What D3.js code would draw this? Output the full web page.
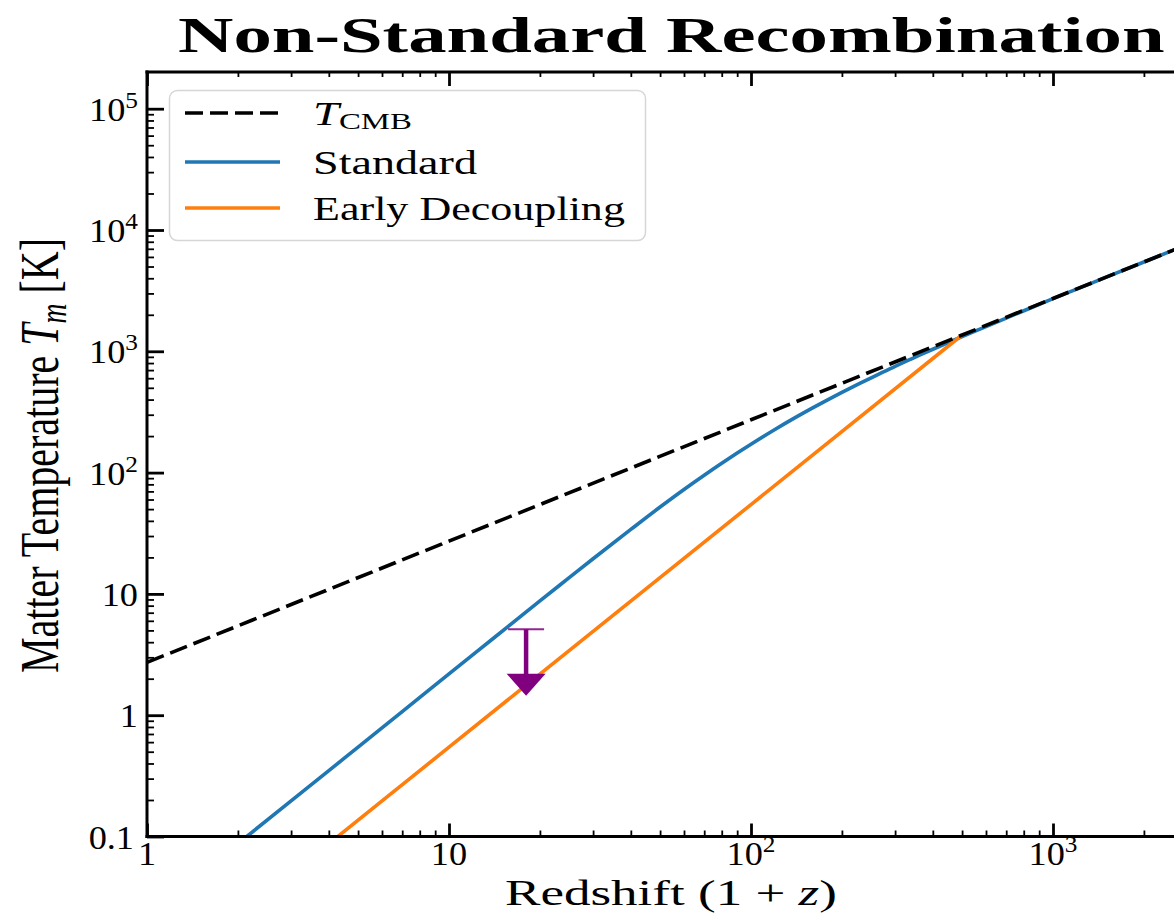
<!DOCTYPE html>
<html>
<head>
<meta charset="utf-8">
<script src="https://cdn.jsdelivr.net/npm/d3@7"></script>
<style>
  body { margin: 0; background: #fff; }
  svg { display: block; }
  text { font-family: "Liberation Serif", "Times New Roman", serif; fill: #000; }
</style>
</head>
<body>
<svg id="chart" width="1174" height="914"></svg>
<script>
// CMB temperature, T = 2.725 K (1+z)
const redshiftCMB = [1, 10, 100, 1000, 5000];
const tempCMB = [2.725, 27.25, 272.5, 2725, 13625];

// Standard recombination: gas temperature decouples from the CMB around 1+z ~ 150
const redshiftStandard = [2, 3, 4, 5, 7, 10, 14, 20, 25, 30, 40, 50, 60, 70, 80, 90, 100, 120, 140, 160, 180, 200, 230, 260, 300, 350, 400, 450, 500, 600, 700, 850, 1000, 1500, 2000, 3000, 5000];
const tempStandard = [0.0874, 0.1965, 0.349, 0.546, 1.07, 2.19, 4.29, 8.75, 13.6, 19.5, 34.0, 52.0, 72.6, 95.1, 119.3, 144.8, 171.4, 226.7, 283.8, 341.7, 400.1, 458.5, 546, 633, 752, 895, 1040, 1182, 1322, 1599, 1879, 2298, 2714, 4083, 5450, 8175, 13625];

// Early decoupling: adiabatic cooling (T ~ (1+z)^2) from 1+z = 500
const redshiftEarly = [4, 10, 100, 500];
const tempEarly = [0.0872, 0.545, 54.5, 1362];

// Upper limit on T_m at 1+z = 18
const limitRedshift = 18;
const limitUpper = 5.1;
const limitArrowTip = 1.45;

// Axis ticks and labels
const xTickValues = [1, 10, 100, 1000];
const xTickLabels = ["1", "10", "10^2", "10^3"];
const yTickValues = [0.1, 1, 10, 100, 1000, 1e4, 1e5];
const yTickLabels = ["0.1", "1", "10", "10^2", "10^3", "10^4", "10^5"];

const legendLabels = ["T_CMB", "Standard", "Early Decoupling"];
const seriesColors = { cmb: "#000000", standard: "#1f77b4", early: "#ff7f0e", limit: "#800080" };

const svg = d3.select("#chart");
const plotLeft = 147, plotBottom = 836.5, plotTop = 72;
const decadeX = 302, decadeY = 121.3;

const x = d3.scaleLog().domain([1, 5000]).range([plotLeft, plotLeft + decadeX * Math.log10(5000)]);
const y = d3.scaleLog().domain([0.1, 2e5]).range([plotBottom, plotBottom - decadeY * Math.log10(2e6)]);

const xRight = x.range()[1];

svg.append("defs").append("clipPath").attr("id", "plot-clip")
  .append("rect").attr("x", plotLeft).attr("y", y.range()[1])
  .attr("width", xRight - plotLeft).attr("height", plotBottom - y.range()[1]);

function minorValues(lo, hi) {
  const out = [];
  for (let d = Math.floor(Math.log10(lo)); d <= Math.ceil(Math.log10(hi)); d++) {
    for (let k = 2; k <= 9; k++) {
      const v = +(k * Math.pow(10, d)).toPrecision(6);
      if (v > lo && v < hi) out.push(v);
    }
  }
  return out;
}

// Fits a text element to a given width by horizontal scaling
function fittedText(parent, x0, y0, width, build, rotate) {
  const g = parent.append("g").attr("transform", `translate(${x0},${y0})` + (rotate ? " rotate(-90)" : ""));
  const t = g.append("text").attr("x", 0).attr("y", 0);
  build(t);
  const bw = t.node().getBBox().width;
  t.attr("transform", `scale(${width / bw},1)`);
  return t;
}

function powerLabel(t, label, supSize, supShift) {
  const parts = label.split("^");
  t.append("tspan").text(parts[0]);
  if (parts.length > 1) {
    t.append("tspan").attr("dy", -supShift).attr("font-size", supSize).text(parts[1]);
  }
}

// ---- data lines ----
const plot = svg.append("g").attr("clip-path", "url(#plot-clip)");
const line = d3.line().x(d => x(d[0])).y(d => y(d[1])).curve(d3.curveMonotoneX);

plot.append("path")
  .datum(d3.zip(redshiftStandard, tempStandard))
  .attr("d", line).attr("fill", "none")
  .attr("stroke", seriesColors.standard).attr("stroke-width", 3.6);

plot.append("path")
  .datum(d3.zip(redshiftEarly, tempEarly))
  .attr("d", line).attr("fill", "none")
  .attr("stroke", seriesColors.early).attr("stroke-width", 3.6);

plot.append("path")
  .datum(d3.zip(redshiftCMB, tempCMB))
  .attr("d", line).attr("fill", "none")
  .attr("stroke", seriesColors.cmb).attr("stroke-width", 3.6)
  .attr("stroke-dasharray", "18,7");

// ---- upper limit arrow ----
const ax = x(limitRedshift);
const capY = y(limitUpper);
const tipY = y(limitArrowTip);
const headLen = 22, headHalf = 19.5;
plot.append("line")
  .attr("x1", ax - 18).attr("x2", ax + 18).attr("y1", capY).attr("y2", capY)
  .attr("stroke", seriesColors.limit).attr("stroke-width", 2).attr("stroke-opacity", 0.85);
plot.append("line")
  .attr("x1", ax).attr("x2", ax).attr("y1", capY).attr("y2", tipY - headLen + 1)
  .attr("stroke", seriesColors.limit).attr("stroke-width", 4.5);
plot.append("path")
  .attr("d", `M${ax - headHalf},${tipY - headLen} L${ax + headHalf},${tipY - headLen} L${ax},${tipY} Z`)
  .attr("fill", seriesColors.limit);

// ---- axes (ticks pointing inward) ----
const tickStyle = (g, w) => {
  g.select(".domain").remove();
  g.selectAll(".tick line").attr("stroke", "#000").attr("stroke-width", w);
};

svg.append("g").attr("transform", `translate(0,${plotBottom})`)
  .call(d3.axisBottom(x).tickValues(xTickValues).tickSize(-13).tickFormat(""))
  .call(g => tickStyle(g, 2.8));
svg.append("g").attr("transform", `translate(0,${plotBottom})`)
  .call(d3.axisBottom(x).tickValues(minorValues(1, 5000)).tickSize(-6).tickFormat(""))
  .call(g => tickStyle(g, 1.8));
svg.append("g").attr("transform", `translate(0,${plotTop})`)
  .call(d3.axisTop(x).tickValues(xTickValues).tickSize(-14).tickFormat(""))
  .call(g => tickStyle(g, 2.8));
svg.append("g").attr("transform", `translate(0,${plotTop})`)
  .call(d3.axisTop(x).tickValues(minorValues(1, 5000)).tickSize(-5).tickFormat(""))
  .call(g => tickStyle(g, 1.8));
svg.append("g").attr("transform", `translate(${plotLeft},0)`)
  .call(d3.axisLeft(y).tickValues(yTickValues).tickSize(-17).tickFormat(""))
  .call(g => tickStyle(g, 2.8));
svg.append("g").attr("transform", `translate(${plotLeft},0)`)
  .call(d3.axisLeft(y).tickValues(minorValues(0.1, 2e5)).tickSize(-7).tickFormat(""))
  .call(g => tickStyle(g, 1.8));

// frame
const frame = svg.append("g").attr("stroke", "#000").attr("stroke-width", 3).attr("fill", "none");
frame.append("line").attr("x1", plotLeft).attr("x2", plotLeft).attr("y1", plotTop - 1.5).attr("y2", plotBottom + 1.5);
frame.append("line").attr("x1", plotLeft - 1.5).attr("x2", xRight).attr("y1", plotBottom).attr("y2", plotBottom);
frame.append("line").attr("x1", plotLeft - 1.5).attr("x2", xRight).attr("y1", plotTop).attr("y2", plotTop);

// tick labels
const labelG = svg.append("g").attr("font-size", 33);
xTickValues.forEach((v, i) => {
  const g = labelG.append("g").attr("transform", `translate(${x(v)},865) scale(1.1,1)`);
  const t = g.append("text").attr("text-anchor", "middle");
  powerLabel(t, xTickLabels[i], 23, 13);
});
yTickValues.forEach((v, i) => {
  const endX = v === 0.1 ? 134 : 138;
  const g = labelG.append("g").attr("transform", `translate(${endX},${y(v) + 12}) scale(1.1,1)`);
  const t = g.append("text").attr("text-anchor", "end");
  powerLabel(t, yTickLabels[i], 23, 13);
});

// axis titles
fittedText(svg, 505, 905, 332, t => {
  t.attr("font-size", 36);
  t.append("tspan").text("Redshift (1 + ");
  t.append("tspan").attr("font-style", "italic").text("z");
  t.append("tspan").text(")");
});

fittedText(svg, 58, 673, 435, t => {
  t.attr("font-size", 55);
  t.append("tspan").text("Matter Temperature ");
  t.append("tspan").attr("font-style", "italic").text("T");
  t.append("tspan").attr("font-style", "italic").attr("font-size", 38).attr("dy", 8).text("m");
  t.append("tspan").attr("dy", -8).text(" [K]");
}, true);

// title
fittedText(svg, 178, 52, 987, t => {
  t.attr("font-size", 51).attr("font-weight", "bold").text("Non-Standard Recombination");
});

// ---- legend ----
const legend = svg.append("g");
legend.append("rect")
  .attr("x", 169.5).attr("y", 90.5).attr("width", 476).attr("height", 150).attr("rx", 8)
  .attr("fill", "#fff").attr("fill-opacity", 0.85)
  .attr("stroke", "#d6d6d6").attr("stroke-width", 1.5);

const legendRows = [
  { key: "cmb", y: 113, dash: "18,7", width: 99 },
  { key: "standard", y: 162, dash: null, width: 164 },
  { key: "early", y: 208, dash: null, width: 312 }
];
legendRows.forEach((r, i) => {
  legend.append("line")
    .attr("x1", 185).attr("x2", 280).attr("y1", r.y).attr("y2", r.y)
    .attr("stroke", seriesColors[r.key]).attr("stroke-width", 3.6)
    .attr("stroke-dasharray", r.dash);
  fittedText(legend, 313, r.y + 12, r.width, t => {
    t.attr("font-size", 34);
    const parts = legendLabels[i].split("_");
    if (parts.length > 1) {
      t.append("tspan").attr("font-style", "italic").text(parts[0]);
      t.append("tspan").attr("font-size", 24).attr("dy", 4).text(parts[1]);
    } else {
      t.text(parts[0]);
    }
  });
});
</script>
</body>
</html>
